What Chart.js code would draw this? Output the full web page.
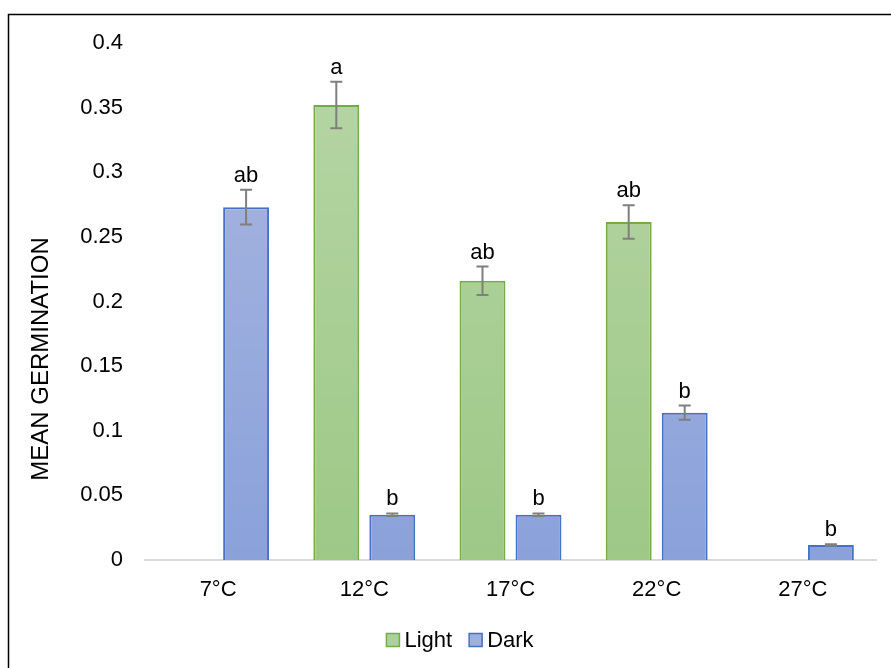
<!DOCTYPE html>
<html>
<head>
<meta charset="utf-8">
<script src="https://cdn.jsdelivr.net/npm/chart.js@4.4.1/dist/chart.umd.min.js"></script>
<style>
  html, body { margin: 0; padding: 0; background: #fff; }
  #wrap { width: 891px; height: 668px; position: relative; }
</style>
</head>
<body>
<div id="wrap"><canvas id="chart" width="891" height="668"></canvas></div>
<script>
// data
const temps = ['7°C', '12°C', '17°C', '22°C', '27°C'];
const seriesNames = ['Light', 'Dark'];
const lightMeans = [0, 0.352, 0.216, 0.2615, 0];
const lightErr = [0, 0.018, 0.011, 0.013, 0];
const lightLetters = ['', 'a', 'ab', 'ab', ''];
const darkMeans = [0.273, 0.035, 0.035, 0.114, 0.0116];
const darkErr = [0.0135, 0.001, 0.001, 0.0055, 0.0005];
const darkLetters = ['ab', 'b', 'b', 'b', 'b'];
const yTicks = [0, 0.05, 0.1, 0.15, 0.2, 0.25, 0.3, 0.35, 0.4];

const FONT = '"Liberation Sans", Arial, sans-serif';
const swatches = [
    { fill: '#aed19b', stroke: '#70ad47' },
    { fill: '#9eb0de', stroke: '#4472c4' }
];

function vertGradient(ctx, top, bottom) {
    const area = ctx.chart.chartArea;
    if (!area) return bottom;
    const g = ctx.chart.ctx.createLinearGradient(0, area.top, 0, area.bottom);
    g.addColorStop(0, top);
    g.addColorStop(1, bottom);
    return g;
}

// error bars + significance letters
const errorBars = {
    id: 'errorBars',
    afterDatasetsDraw(chart) {
        const c = chart.ctx;
        const y = chart.scales.y;
        const sets = [[lightMeans, lightErr, lightLetters], [darkMeans, darkErr, darkLetters]];
        sets.forEach((s, di) => {
            const meta = chart.getDatasetMeta(di);
            meta.data.forEach((bar, i) => {
                const x = bar.x;
                let topY = y.getPixelForValue(s[0][i]);
                if (s[1][i] > 0) {
                    const hi = y.getPixelForValue(s[0][i] + s[1][i]);
                    const lo = y.getPixelForValue(s[0][i] - s[1][i]);
                    c.save();
                    c.strokeStyle = '#7f7f7f';
                    c.lineWidth = 2;
                    c.beginPath();
                    c.moveTo(x, hi); c.lineTo(x, lo);
                    c.moveTo(x - 6, hi); c.lineTo(x + 6, hi);
                    c.moveTo(x - 6, lo); c.lineTo(x + 6, lo);
                    c.stroke();
                    c.restore();
                    topY = hi;
                }
                if (s[2][i]) {
                    c.save();
                    c.fillStyle = '#000';
                    c.font = '22px ' + FONT;
                    c.textAlign = 'center';
                    c.textBaseline = 'alphabetic';
                    c.fillText(s[2][i], x, topY - 8);
                    c.restore();
                }
            });
        });
    }
};

// frame, y title and legend drawn like the Excel original
const extras = {
    id: 'extras',
    afterDraw(chart) {
        const c = chart.ctx;
        c.save();
        c.strokeStyle = '#000';
        c.lineWidth = 1.5;
        c.strokeRect(8.5, 14.5, 905, 1000);

        // y axis title
        c.save();
        c.translate(41, 359);
        c.rotate(-Math.PI / 2);
        c.font = '24px ' + FONT;
        c.fillStyle = '#000';
        c.textAlign = 'center';
        c.textBaseline = 'middle';
        c.fillText('MEAN GERMINATION', 0, 0);
        c.restore();

        // legend
        c.font = '22px ' + FONT;
        const box = 13, gapText = 5, gapItem = 17;
        const widths = seriesNames.map(n => c.measureText(n).width);
        let total = 0;
        widths.forEach((w, i) => { total += box + gapText + w + (i ? gapItem : 0); });
        let x = 460 - total / 2;
        const cy = 640;
        seriesNames.forEach((n, i) => {
            c.fillStyle = swatches[i].fill;
            c.strokeStyle = swatches[i].stroke;
            c.lineWidth = 1.5;
            c.fillRect(x, cy - box / 2, box, box);
            c.strokeRect(x, cy - box / 2, box, box);
            c.fillStyle = '#000';
            c.textAlign = 'left';
            c.textBaseline = 'middle';
            c.fillText(n, x + box + gapText, cy + 1);
            x += box + gapText + widths[i] + gapItem;
        });
        c.restore();
    }
};

new Chart(document.getElementById('chart').getContext('2d'), {
    type: 'bar',
    data: {
        labels: temps,
        datasets: [
            {
                label: seriesNames[0],
                data: lightMeans,
                backgroundColor: ctx => vertGradient(ctx, '#b7d6a6', '#9dc886'),
                borderColor: '#70ad47',
                borderWidth: 2,
                categoryPercentage: 0.766,
                barPercentage: 0.82
            },
            {
                label: seriesNames[1],
                data: darkMeans,
                backgroundColor: ctx => vertGradient(ctx, '#aab8e0', '#8aa1da'),
                borderColor: '#4472c4',
                borderWidth: 2,
                categoryPercentage: 0.766,
                barPercentage: 0.82
            }
        ]
    },
    options: {
        responsive: false,
        animation: false,
        layout: { padding: { left: 60, right: 15, top: 43, bottom: 68 } },
        scales: {
            x: {
                grid: { display: false },
                border: { color: '#d9d9d9', width: 2 },
                afterFit: axis => { axis.height = 40; },
                ticks: { color: '#000', font: { family: FONT, size: 22 }, padding: 9 }
            },
            y: {
                min: 0,
                max: 0.4,
                afterBuildTicks: axis => { axis.ticks = yTicks.map(v => ({ value: v })); },
                afterFit: axis => { axis.width = 85; },
                grid: { display: false, drawTicks: false },
                border: { display: false },
                ticks: {
                    color: '#000',
                    font: { family: FONT, size: 22 },
                    padding: 22,
                    callback: v => String(v)
                }
            }
        },
        plugins: {
            legend: { display: false },
            tooltip: { enabled: false }
        }
    },
    plugins: [errorBars, extras]
});
</script>
</body>
</html>
